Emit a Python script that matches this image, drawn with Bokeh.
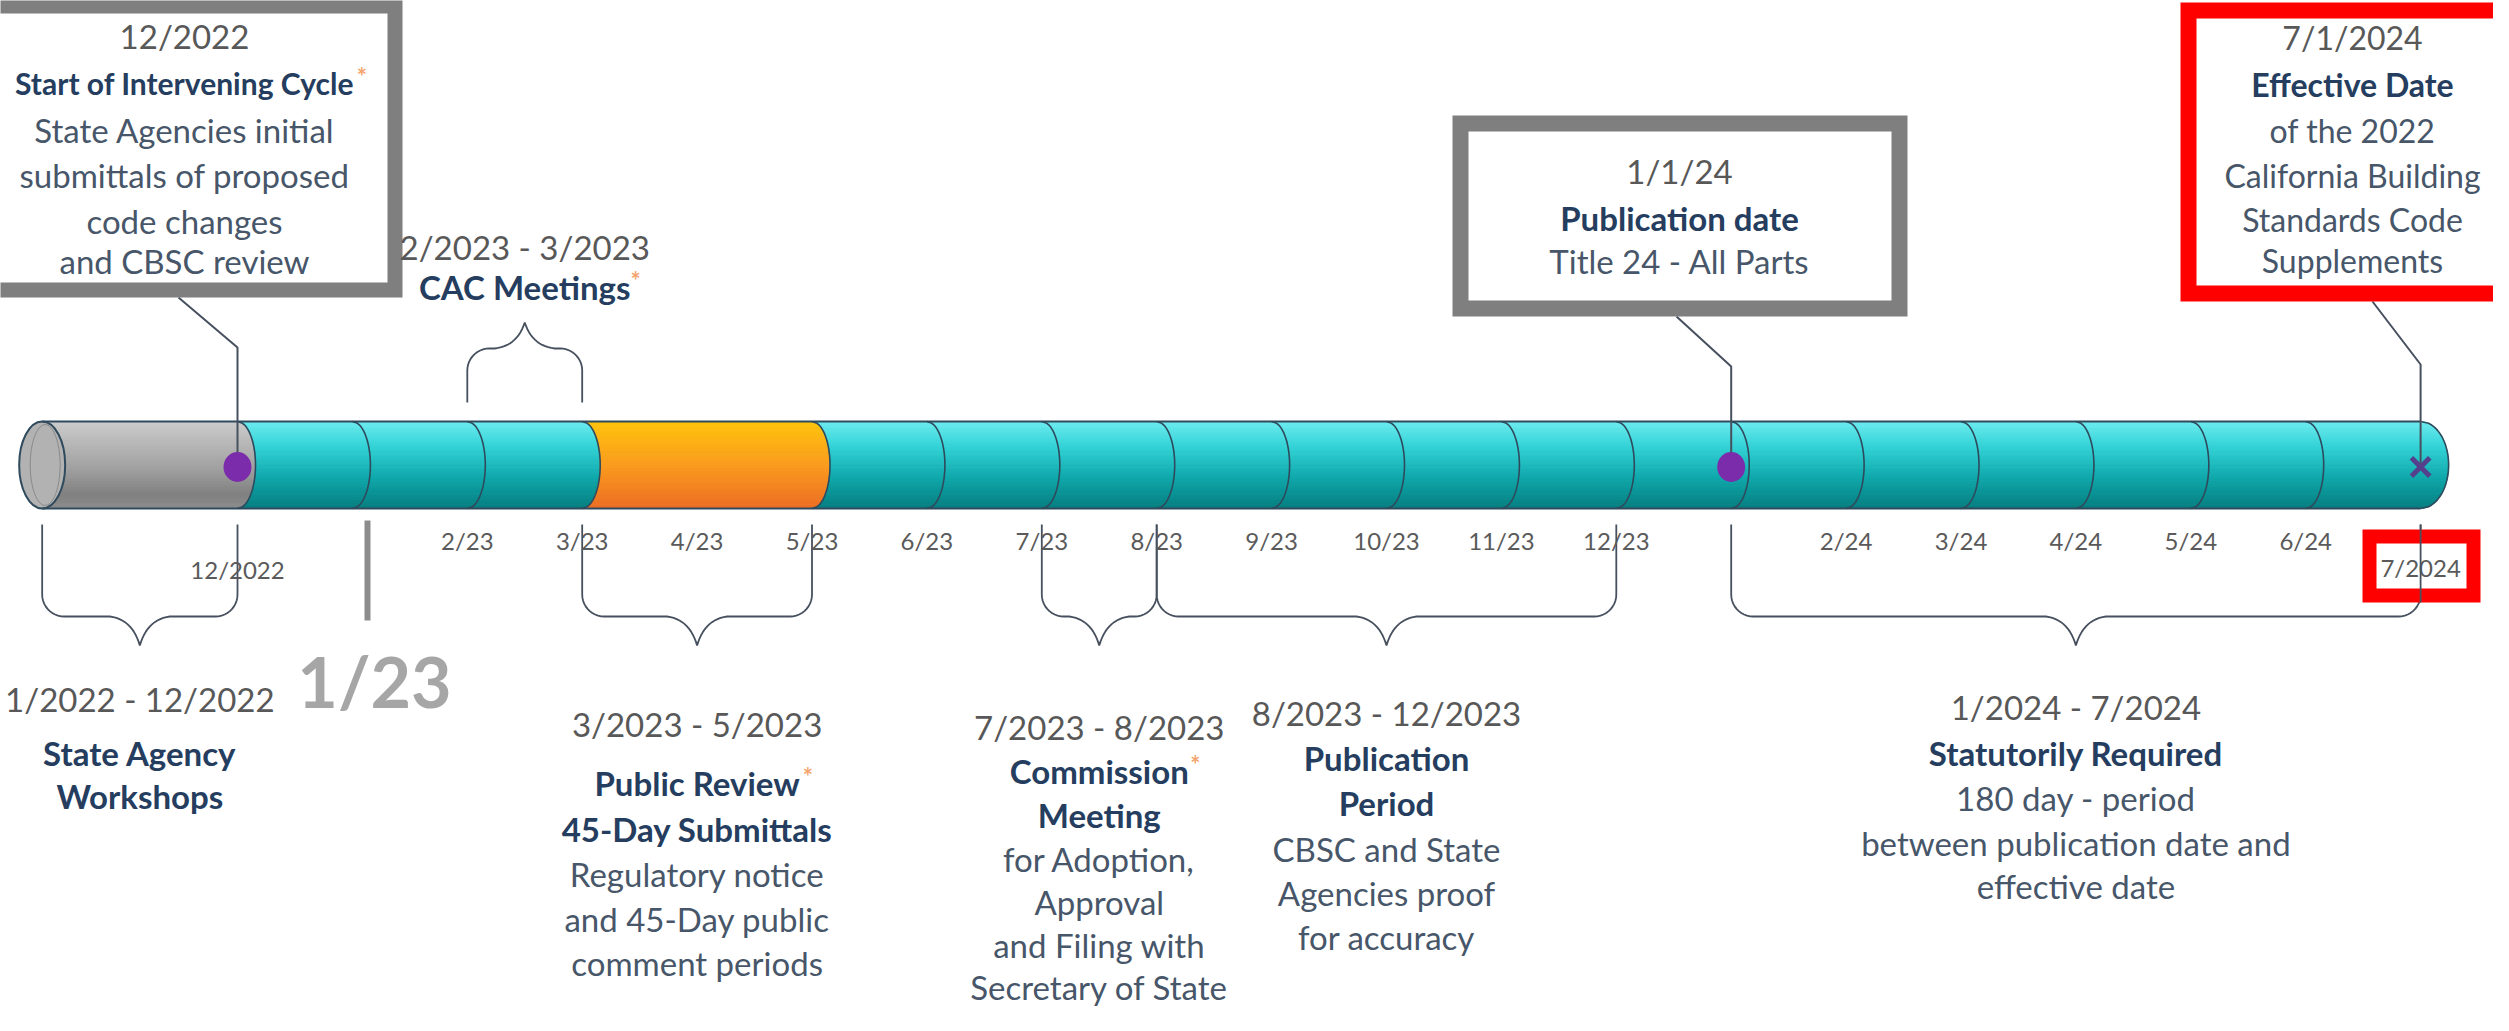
import numpy as np
from bokeh.plotting import figure
from bokeh.models import Range1d
from bokeh.embed import file_html
from bokeh.resources import INLINE
from bokeh.core.properties import value

# ---------------- data ----------------
MONTHS = ["12/2022", "1/23", "2/23", "3/23", "4/23", "5/23", "6/23", "7/23",
          "8/23", "9/23", "10/23", "11/23", "12/23", "1/24", "2/24", "3/24",
          "4/24", "5/24", "6/24", "7/2024"]
TUBE_START = -1.7            # left end of the bar (before 12/2022)
TUBE_END = 19                # 7/2024
SEG_FROM = [TUBE_START, 0, 3, 5]
SEG_TO = [0, 3, 5, 19]
SEG_KIND = ["gray", "teal", "orange", "teal"]
RING_MONTHS = [0, 1, 2, 3, 5, 6, 7, 8, 9, 10, 11, 12, 13, 14, 15, 16, 17, 18]
TICK_MONTHS = [2, 3, 4, 5, 6, 7, 8, 9, 10, 11, 12, 14, 15, 16, 17, 18]
DOT_MONTHS = [0, 13]
X_MONTHS = [19]

PERIOD_FROM = [TUBE_START, 3, 7, 8, 13]
PERIOD_TO = [0, 5, 8, 12, 19]
PERIOD_TEXT = [
    [("1/2022 - 12/2022", "d"), ("State Agency", "b"), ("Workshops", "b")],
    [("3/2023 - 5/2023", "d"), ("Public Review", "b*"), ("45-Day Submittals", "b"),
     ("Regulatory notice", "r"), ("and 45-Day public", "r"), ("comment periods", "r")],
    [("7/2023 - 8/2023", "d"), ("Commission", "b*"), ("Meeting", "b"), ("for Adoption,", "r"),
     ("Approval", "r"), ("and Filing with", "r"), ("Secretary of State", "r")],
    [("8/2023 - 12/2023", "d"), ("Publication", "b"), ("Period", "b"),
     ("CBSC and State", "r"), ("Agencies proof", "r"), ("for accuracy", "r")],
    [("1/2024 - 7/2024", "d"), ("Statutorily Required", "b"), ("180 day - period", "r"),
     ("between publication date and", "r"), ("effective date", "r")],
]
CAC_FROM, CAC_TO = 2, 3
CAC_TEXT = [("2/2023 - 3/2023", "d"), ("CAC Meetings", "b*")]
START_TEXT = [("12/2022", "d"), ("Start of Intervening Cycle", "b*"), ("State Agencies initial", "r"),
              ("submittals of proposed", "r"), ("code changes", "r"), ("and CBSC review", "r")]
PUB_TEXT = [("1/1/24", "d"), ("Publication date", "b"), ("Title 24 - All Parts", "r")]
EFF_TEXT = [("7/1/2024", "d"), ("Effective Date", "b"), ("of the 2022", "r"),
            ("California Building", "r"), ("Standards Code", "r"), ("Supplements", "r")]
BIG_MARK = "1/23"

# ---------------- layout ----------------
X0, PX = 245.0, 114.9          # screen x of month 0, px per month
YT, YB = 429.0, 516.0
YC, R = (YT + YB) / 2, (YB - YT) / 2
W, H = 2493, 1014
FONT = value("Lato")
OUT = "#2E4A5C"
BR = "#46505E"


def mx(px):
    return (np.asarray(px, dtype=float) - X0) / PX


def xm(m):
    return X0 + np.asarray(m, dtype=float) * PX


p = figure(width=W, height=H, output_backend="svg", toolbar_location=None,
           x_range=Range1d(float(mx(8)), float(mx(8 + W))), y_range=Range1d(8 + H, 8),
           x_axis_location=None, y_axis_location=None, min_border=0)
p.grid.visible = False
p.outline_line_color = None
p.background_fill_color = "white"
p.border_fill_color = "white"

STOPS = {
    "teal": [(0.0, (110, 236, 240)), (0.3, (50, 210, 214)), (0.65, (16, 168, 171)), (1.0, (6, 126, 128))],
    "gray": [(0.0, (204, 204, 204)), (0.55, (160, 160, 160)), (0.85, (128, 128, 128)), (1.0, (140, 140, 140))],
    "orange": [(0.0, (255, 196, 12)), (0.5, (250, 156, 30)), (1.0, (236, 110, 36))],
}


def col(kind, t):
    st = STOPS[kind]
    for (t0, c0), (t1, c1) in zip(st[:-1], st[1:]):
        if t <= t1:
            f = (t - t0) / (t1 - t0)
            c = [int(round(a + (b - a) * f)) for a, b in zip(c0, c1)]
            return "#%02x%02x%02x" % tuple(c)
    return "#%02x%02x%02x" % st[-1][1]


def bulge(y, b):
    return b / PX * np.sqrt(np.clip(1 - ((y - YC) / R) ** 2, 0, 1))


ARC_B, END_B = 18, 28
N = 40
edges = np.linspace(YT, YB, N + 1)
sx, sy, sc = [], [], []
for a, b, kind in zip(SEG_FROM, SEG_TO, SEG_KIND):
    for i in range(N):
        yy = np.linspace(edges[i], edges[i + 1], 4)
        left = a + (0 * yy if a == TUBE_START else bulge(yy, ARC_B))
        right = b + bulge(yy, END_B if b == TUBE_END else ARC_B)
        sx.append(list(left) + list(right[::-1]))
        sy.append(list(yy) + list(yy[::-1]))
        sc.append(col(kind, (i + 0.5) / N))
p.patches(sx, sy, fill_color=sc, line_color=sc, line_width=1)

# left end face
p.ellipse(x=[TUBE_START], y=[YC], width=46 / PX, height=2 * R, fill_color="#B2B2B2",
          line_color=OUT, line_width=2)
p.ellipse(x=[TUBE_START + 3 / PX], y=[YC], width=30 / PX, height=2 * R - 6, fill_color=None,
          line_color="#8A8A8A", line_width=1)

# rings
ay = np.linspace(YT, YB, 50)
rx = [list(m + bulge(ay, ARC_B)) for m in RING_MONTHS] + [list(TUBE_END + bulge(ay, END_B))]
ry = [list(ay)] * len(rx)
p.multi_line(rx, ry, line_color=OUT, line_width=1.6)
p.segment(x0=[TUBE_START] * 2, y0=[YT, YB], x1=[TUBE_END] * 2, y1=[YT, YB], line_color=OUT, line_width=2)

# leader lines to milestones
lead_x = [[mx(186), 0, 0], [mx(1684), 13, 13], [mx(2380), 19, 19]]
lead_y = [[305, 355, YC], [324, 374, YC], [309, 372, YC]]
p.multi_line(lead_x, lead_y, line_color=BR, line_width=2)

p.ellipse(x=DOT_MONTHS, y=[YC + 2] * len(DOT_MONTHS), width=28 / PX, height=30,
          fill_color="#7A2CAA", line_color=None)
p.scatter(x=X_MONTHS, y=[YC + 2] * len(X_MONTHS), marker="x", size=26,
          line_color="#55408C", line_width=5)


# braces
def brace(m1, m2, y0, yh, yp, r=22, r2=30):
    x1, x2 = float(xm(m1)), float(xm(m2))
    xc = (x1 + x2) / 2
    s = 1 if yp > yh else -1
    th = np.linspace(0, np.pi / 2, 12)
    lx = [x1, x1] + list(x1 + r - r * np.cos(th))
    ly = [y0, yh - s * r] + list(yh - s * r + s * r * np.sin(th))
    t = np.linspace(0, 1, 14)
    p0, c, p1 = np.array([xc - r2, yh]), np.array([xc - 0.25 * r2, yh + 0.1 * (yp - yh)]), np.array([xc, yp])
    bez = [(1 - u) ** 2 * p0 + 2 * (1 - u) * u * c + u ** 2 * p1 for u in t]
    lx += [q[0] for q in bez]
    ly += [q[1] for q in bez]
    hx = [2 * xc - v for v in lx[::-1]]
    hy = ly[::-1]
    return list(mx(lx + hx)), ly + hy


bx, by = [], []
for a, b in zip(PERIOD_FROM, PERIOD_TO):
    xs_, ys_ = brace(a, b, 532, 624, 653)
    bx.append(xs_)
    by.append(ys_)
xs_, ys_ = brace(CAC_FROM, CAC_TO, 410, 356, 330)
bx.append(xs_)
by.append(ys_)
p.multi_line(bx, by, line_color=BR, line_width=1.8)

# 1/23 marker
p.segment(x0=[mx(375)], y0=[528], x1=[mx(375)], y1=[628], line_color="#8C8C8C", line_width=6)
p.text(x=[mx(382)], y=[688], text=[BIG_MARK], text_font=FONT, text_font_size="70px",
       text_font_style="bold", text_color="#A6A6A6", text_align="center", text_baseline="middle")

# highlight boxes (outer edges, stroke width)
BOXES = [(-40, 410, 6, 305, "#7F7F7F", 15), (1460, 1915, 123, 324, "#7F7F7F", 16),
         (2188, 2640, 10, 309, "#FF0000", 16), (2370, 2488, 537, 610, "#FF0000", 14)]
for l, r_, t_, b_, c_, w_ in BOXES:
    h = w_ / 2
    p.quad(left=[mx(l + h)], right=[mx(r_ - h)], top=[t_ + h], bottom=[b_ - h],
           fill_color="white", line_color=c_, line_width=w_, line_join="miter")

# month labels
p.text(x=TICK_MONTHS, y=[548] * len(TICK_MONTHS), text=[MONTHS[i] for i in TICK_MONTHS],
       text_font=FONT, text_font_size="24px", text_color="#5A5A5A", text_align="center",
       text_baseline="middle")
p.text(x=[0, 19], y=[577, 575], text=[MONTHS[0], MONTHS[19]], text_font=FONT,
       text_font_size="24px", text_color="#5A5A5A", text_align="center", text_baseline="middle")
p.segment(x0=[19], y0=[532], x1=[19], y1=[610], line_color=BR, line_width=1.8)

STY = {"d": ("#585858", "normal"), "b": ("#253D5E", "bold"), "r": ("#475669", "normal")}
CW = {" ": 0.2, "i": 0.27, "l": 0.27, "t": 0.36, "f": 0.34, "r": 0.38, "I": 0.3, "m": 0.85, "w": 0.78,
      "M": 0.9, "s": 0.42, "c": 0.45}


def tw(s, size):
    w = 0
    for ch in s:
        if ch in CW:
            w += CW[ch]
        elif ch.isupper():
            w += 0.64
        else:
            w += 0.54
    return w * size


def block(cx, ys, lines, size=33, sizes=None):
    for k, ((txt, st), y) in enumerate(zip(lines, ys)):
        sz = sizes[k] if sizes else size
        c_, fs = STY[st[0]]
        p.text(x=[mx(cx)], y=[y], text=[txt], text_font=FONT, text_font_size=f"{sz}px",
               text_font_style=fs, text_color=c_, text_align="center", text_baseline="middle")
        if st.endswith("*"):
            p.text(x=[mx(cx + tw(txt, sz) / 2 + 3)], y=[y - 6], text=["*"], text_font=FONT,
                   text_font_size="24px", text_font_style="bold", text_color="#F4A46E",
                   text_align="left", text_baseline="middle")


block(192, [43, 90, 137, 182, 228, 268], START_TEXT, sizes=[33, 30, 33, 33, 33, 33])
block(float(xm((CAC_FROM + CAC_TO) / 2)), [254, 294], CAC_TEXT)
block(1687, [178, 225, 268], PUB_TEXT)
block(2360, [45, 92, 138, 183, 227, 268], EFF_TEXT, size=32)
PERIOD_Y = [[706, 760, 803], [731, 790, 836, 881, 926, 970], [734, 778, 822, 866, 909, 952, 994],
            [720, 765, 810, 856, 900, 944], [714, 760, 805, 850, 893]]
for a, b, lines, ys in zip(PERIOD_FROM, PERIOD_TO, PERIOD_TEXT, PERIOD_Y):
    cx = (float(xm(a)) + float(xm(b))) / 2
    block(cx, ys, lines)

open("out.html", "w").write(file_html(p, INLINE))
